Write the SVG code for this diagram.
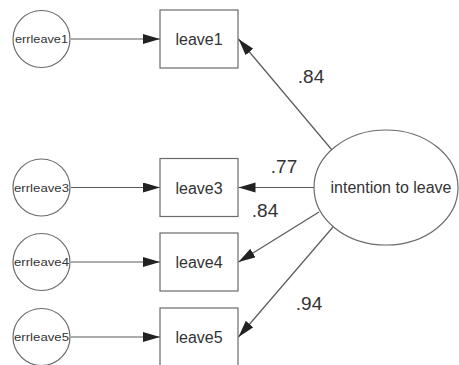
<svg xmlns="http://www.w3.org/2000/svg" width="459" height="365" viewBox="0 0 459 365">
  <style>
    .node { fill: #fff; stroke: #6a6a6a; stroke-width: 1.2; }
    .edge { stroke: #5a5a5a; stroke-width: 1.2; fill: none; marker-end: url(#arrow); }
    .lbl { font-family: "Liberation Sans", Arial, sans-serif; fill: #333; text-anchor: middle; }
    .err { font-size: 11.5px; }
    .obs { font-size: 16px; }
    .coef { font-size: 19px; }
  </style>
  <defs>
    <marker id="arrow" markerUnits="userSpaceOnUse" markerWidth="18" markerHeight="11" refX="17" refY="5" orient="auto">
      <path d="M0,0 L17,5 L0,10 Z" fill="#222"/>
    </marker>
  </defs>
  <rect width="459" height="365" fill="#fff"/>

  <g id="connectors">
    <line class="edge" x1="71" y1="39" x2="160" y2="39"/>
    <line class="edge" x1="71" y1="187.5" x2="160" y2="187.5"/>
    <line class="edge" x1="71" y1="262" x2="160" y2="262"/>
    <line class="edge" x1="71" y1="337" x2="160" y2="337"/>
    <line class="edge" x1="332" y1="150" x2="238.5" y2="39"/>
    <line class="edge" x1="314" y1="187.5" x2="238.5" y2="187.5"/>
    <line class="edge" x1="319" y1="212" x2="238.5" y2="262"/>
    <line class="edge" x1="333" y1="227" x2="238.5" y2="337"/>
  </g>

  <g id="coefficients">
    <text class="lbl coef" x="311" y="83">.84</text>
    <text class="lbl coef" x="284" y="173">.77</text>
    <text class="lbl coef" x="265" y="217">.84</text>
    <text class="lbl coef" x="309" y="310">.94</text>
  </g>

  <g id="errleave1">
    <circle class="node" cx="41.5" cy="39" r="28.5"/>
    <text class="lbl err" x="41.5" y="43" textLength="53" lengthAdjust="spacingAndGlyphs">errleave1</text>
  </g>
  <g id="errleave3">
    <circle class="node" cx="41.5" cy="187.5" r="28.5"/>
    <text class="lbl err" x="41.5" y="191.5" textLength="55" lengthAdjust="spacingAndGlyphs">errleave3</text>
  </g>
  <g id="errleave4">
    <circle class="node" cx="41.5" cy="262" r="28.5"/>
    <text class="lbl err" x="41.5" y="266" textLength="55" lengthAdjust="spacingAndGlyphs">errleave4</text>
  </g>
  <g id="errleave5">
    <circle class="node" cx="41.5" cy="337" r="28.5"/>
    <text class="lbl err" x="41.5" y="341" textLength="55" lengthAdjust="spacingAndGlyphs">errleave5</text>
  </g>

  <g id="leave1">
    <rect class="node" x="160" y="10" width="78" height="58"/>
    <text class="lbl obs" x="199" y="45">leave1</text>
  </g>
  <g id="leave3">
    <rect class="node" x="160" y="158.5" width="78" height="58"/>
    <text class="lbl obs" x="199" y="193.5">leave3</text>
  </g>
  <g id="leave4">
    <rect class="node" x="160" y="233" width="78" height="58"/>
    <text class="lbl obs" x="199" y="268">leave4</text>
  </g>
  <g id="leave5">
    <rect class="node" x="160" y="308" width="78" height="58"/>
    <text class="lbl obs" x="199" y="343">leave5</text>
  </g>

  <g id="intention">
    <ellipse class="node" cx="386" cy="187.5" rx="72" ry="57.5"/>
    <text class="lbl obs" x="391" y="192.5">intention to leave</text>
  </g>
</svg>
